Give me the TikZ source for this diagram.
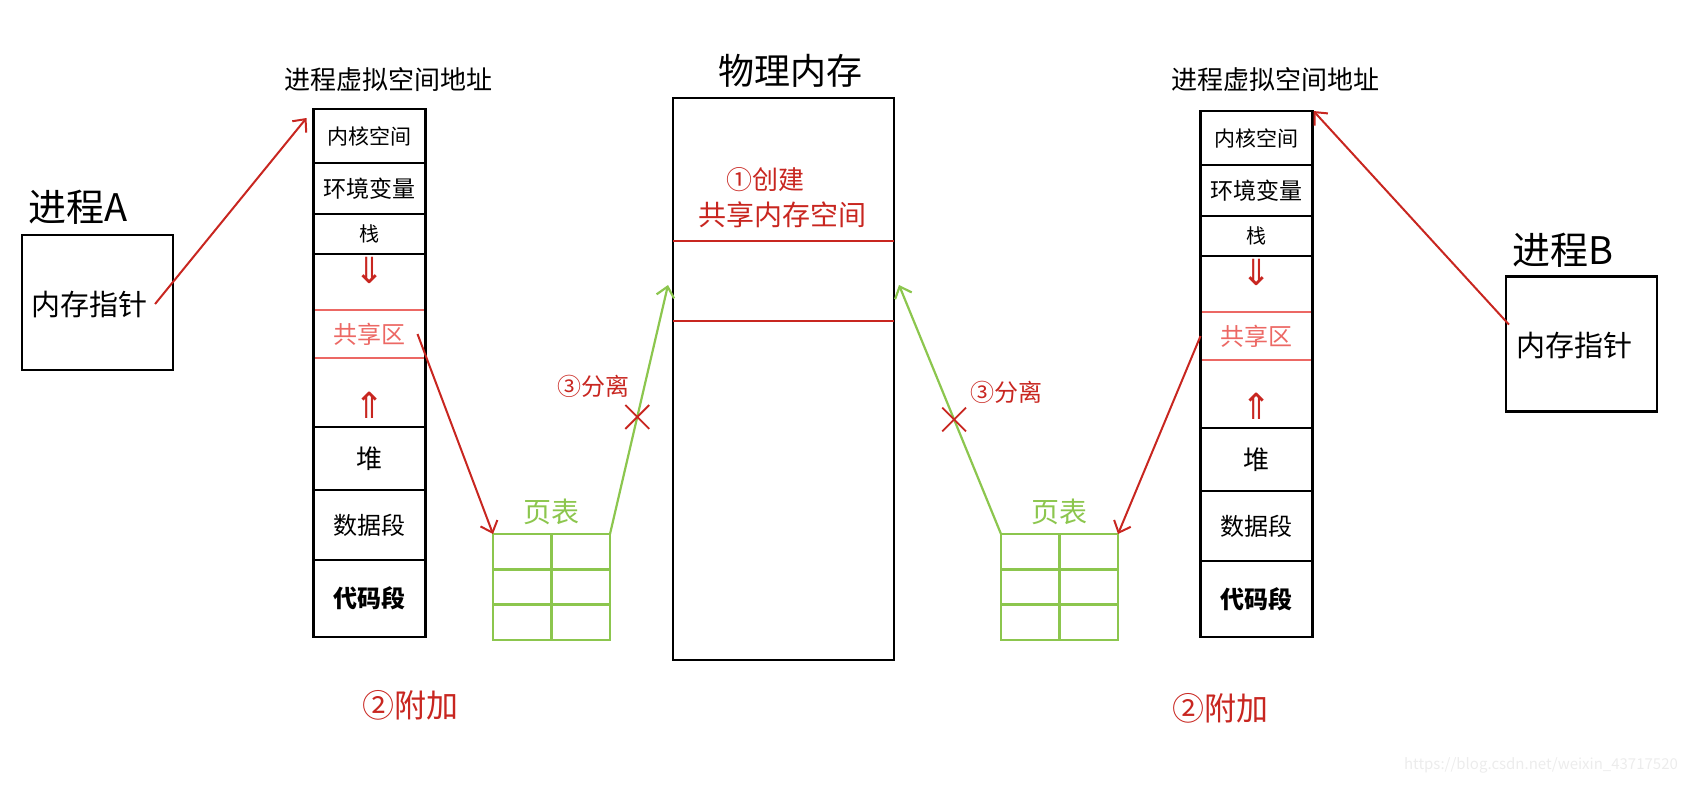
\documentclass[tikz,border=0pt]{standalone}
\usepackage{fontspec}
\setmainfont{Noto Sans CJK SC}
\newfontfamily\dejavu{DejaVu Sans}
\usetikzlibrary{positioning, calc, arrows.meta, shapes.misc}
\definecolor{inkred}{RGB}{200,38,32}
\definecolor{sharered}{RGB}{236,104,100}
\definecolor{tblgreen}{RGB}{140,198,78}
\definecolor{wmgray}{RGB}{236,236,236}

\begin{document}
\begin{tikzpicture}[x=0.5pt, y=-0.5pt,
  vmseg/.style = {draw, line width=1.1pt, minimum width=56pt, inner sep=0pt, outer sep=0pt, font=\fontsize{11}{12}\selectfont},
  procbox/.style = {draw, line width=1.1pt, minimum width=75.5pt, minimum height=67.5pt},
  pgtbl/.style = {draw=tblgreen, line width=1.2pt, minimum width=58.5pt, minimum height=53pt, inner sep=0pt, outer sep=0pt},
  redarr/.style = {inkred, line width=1pt, -{Straight Barb[length=5pt,width=9pt]}},
  grnarr/.style = {tblgreen, line width=1.1pt, -{Straight Barb[length=5pt,width=9pt]}},
  handtxt/.style = {text=inkred, font=\fontsize{12}{13}\selectfont},
  cutmark/.style = {draw=inkred, cross out, line width=0.9pt, minimum size=11pt, inner sep=0pt},
  arrtxt/.style = {text=inkred, font={\dejavu\fontsize{18}{18}\selectfont}},
]
\useasboundingbox (0,0) rectangle (1686,784);

%--- Process A ---
\node[font=\fontsize{19}{20}\selectfont] (procA) at (78,207) {进程A};
\node[procbox] (boxA) at (97.5,302.5) {};
\node[font=\fontsize{14.5}{16}\selectfont] (ptrA) at (90,304) {内存指针};

%--- Virtual address space A ---
\node[font=\fontsize{13}{14}\selectfont] (vmA) at (388,80) {进程虚拟空间地址};
\node[vmseg, minimum height=27pt, font=\fontsize{10.5}{12}\selectfont] (kernelA) at (369.5,136) {内核空间};
\node[vmseg, minimum height=25.5pt, below=0pt of kernelA, font=\fontsize{11.5}{12}\selectfont] (envA) {环境变量};
\node[vmseg, minimum height=20pt, below=0pt of envA, font=\fontsize{10}{12}\selectfont] (stackA) {栈};
\node[minimum width=56pt, minimum height=24pt, inner sep=0pt, outer sep=0pt, below=28pt of stackA, text=sharered, font=\fontsize{12}{13}\selectfont] (shareA) {共享区};
\node[vmseg, minimum height=31.5pt, below=34.5pt of shareA, font=\fontsize{13}{14}\selectfont] (heapA) {堆};
\node[vmseg, minimum height=35pt, below=0pt of heapA, font=\fontsize{12}{13}\selectfont] (dataA) {数据段};
\node[vmseg, minimum height=38.5pt, below=0pt of dataA, font=\fontsize{12}{13}\selectfont\bfseries] (codeA) {代码段};
\node[arrtxt] (downA) at ([yshift=-8pt]stackA.south) {⇓};
\node[arrtxt] (upA) at ([yshift=11pt]heapA.north) {⇑};
\draw[sharered, line width=1pt] (shareA.north west) -- (shareA.north east);
\draw[sharered, line width=1pt] (shareA.south west) -- (shareA.south east);
\draw[line width=1.1pt] (stackA.south west) -- (heapA.north west);
\draw[line width=1.1pt] (stackA.south east) -- (heapA.north east);

%--- Page table A ---
\node[pgtbl] (ptA) at (551.5,587) {};
\draw[tblgreen, line width=1.2pt] (ptA.north) -- (ptA.south);
\draw[tblgreen, line width=1.2pt] ($(ptA.north west)!1/3!(ptA.south west)$) -- ($(ptA.north east)!1/3!(ptA.south east)$);
\draw[tblgreen, line width=1.2pt] ($(ptA.north west)!2/3!(ptA.south west)$) -- ($(ptA.north east)!2/3!(ptA.south east)$);
\node[text=tblgreen, font=\fontsize{14}{15}\selectfont, above=1pt of ptA] (ptAT) {页表};

%--- Physical memory ---
\node[font=\fontsize{18}{20}\selectfont] (memT) at (790,71) {物理内存};
\node[draw, line width=1.1pt, minimum width=110.5pt, minimum height=281pt, inner sep=0pt] (mem) at (783.5,379) {};
\node[minimum width=110.5pt, minimum height=40pt, inner sep=0pt, outer sep=0pt] (shm) at (783.5,281) {};
\draw[inkred, line width=1pt] (shm.north west) -- (shm.north east);
\draw[inkred, line width=1pt] (shm.south west) -- (shm.south east);
\node[text=inkred, font=\fontsize{14}{15}\selectfont] (shmT) at (782,215) {共享内存空间};
\node[handtxt, font=\fontsize{13}{14}\selectfont] (createT) at (765,180) {①创建};

%--- Page table B ---
\node[pgtbl] (ptB) at (1059.5,587) {};
\draw[tblgreen, line width=1.2pt] (ptB.north) -- (ptB.south);
\draw[tblgreen, line width=1.2pt] ($(ptB.north west)!1/3!(ptB.south west)$) -- ($(ptB.north east)!1/3!(ptB.south east)$);
\draw[tblgreen, line width=1.2pt] ($(ptB.north west)!2/3!(ptB.south west)$) -- ($(ptB.north east)!2/3!(ptB.south east)$);
\node[text=tblgreen, font=\fontsize{14}{15}\selectfont, above=1pt of ptB] (ptBT) {页表};

%--- Virtual address space B ---
\node[font=\fontsize{13}{14}\selectfont] (vmB) at (1275,80) {进程虚拟空间地址};
\node[vmseg, minimum height=27pt, font=\fontsize{10.5}{12}\selectfont] (kernelB) at (1256.5,138) {内核空间};
\node[vmseg, minimum height=25.5pt, below=0pt of kernelB, font=\fontsize{11.5}{12}\selectfont] (envB) {环境变量};
\node[vmseg, minimum height=20pt, below=0pt of envB, font=\fontsize{10}{12}\selectfont] (stackB) {栈};
\node[minimum width=56pt, minimum height=24pt, inner sep=0pt, outer sep=0pt, below=28pt of stackB, text=sharered, font=\fontsize{12}{13}\selectfont] (shareB) {共享区};
\node[vmseg, minimum height=31.5pt, below=34pt of shareB, font=\fontsize{13}{14}\selectfont] (heapB) {堆};
\node[vmseg, minimum height=35pt, below=0pt of heapB, font=\fontsize{12}{13}\selectfont] (dataB) {数据段};
\node[vmseg, minimum height=38pt, below=0pt of dataB, font=\fontsize{12}{13}\selectfont\bfseries] (codeB) {代码段};
\node[arrtxt] (downB) at ([yshift=-8pt]stackB.south) {⇓};
\node[arrtxt] (upB) at ([yshift=11pt]heapB.north) {⇑};
\draw[sharered, line width=1pt] (shareB.north west) -- (shareB.north east);
\draw[sharered, line width=1pt] (shareB.south west) -- (shareB.south east);
\draw[line width=1.1pt] (stackB.south west) -- (heapB.north west);
\draw[line width=1.1pt] (stackB.south east) -- (heapB.north east);

%--- Process B ---
\node[font=\fontsize{19}{20}\selectfont] (procB) at (1563,250) {进程B};
\node[procbox] (boxB) at (1581.5,344) {};
\node[font=\fontsize{14.5}{16}\selectfont] (ptrB) at (1574,345) {内存指针};

%--- Pointers -> virtual spaces ---
\draw[redarr] (ptrA.east) -- ([xshift=-3.5pt,yshift=-4.5pt]kernelA.north west);
\draw[redarr] (ptrB.north west) -- ([xshift=0.5pt]kernelB.north east);

%--- Shared area -> page tables ---
\draw[redarr] ([xshift=-4pt]shareA.east) -- (ptA.north west);
\draw[redarr] (shareB.west) -- (ptB.north east);

%--- Page tables -> shared memory ---
\draw[grnarr] (ptA.north east) -- node[cutmark, pos=0.47] (cutA) {} ([xshift=-2.5pt,yshift=-2pt]shm.west);
\draw[grnarr] (ptB.north west) -- node[cutmark, pos=0.46] (cutB) {} ([xshift=2.5pt,yshift=-2pt]shm.east);

%--- Step labels ---
\node[handtxt] (sepA) at (593,386) {③分离};
\node[handtxt] (sepB) at (1006,392) {③分离};
\node[handtxt, font=\fontsize{16}{17}\selectfont] (attA) at (410,705) {②附加};
\node[handtxt, font=\fontsize{16}{17}\selectfont] (attB) at (1220,708) {②附加};

%--- Watermark ---
\node[text=wmgray, font=\fontsize{7.5}{8}\selectfont] (wm) at (1541,765) {https://blog.csdn.net/weixin\_43717520};

\end{tikzpicture}
\end{document}
